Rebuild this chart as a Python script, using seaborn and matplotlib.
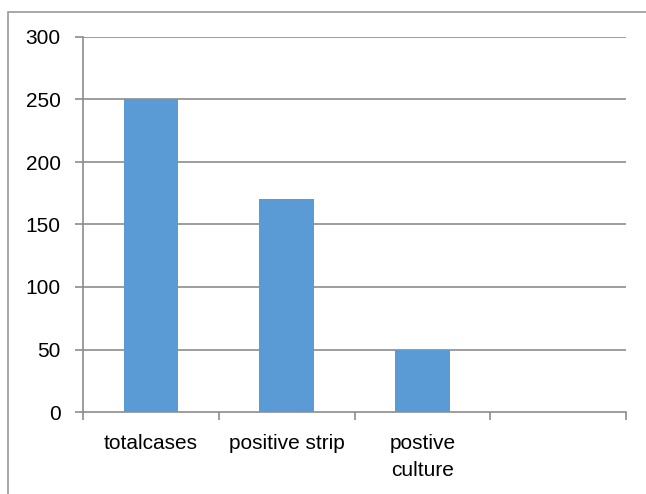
import matplotlib
matplotlib.use("Agg")
import matplotlib.pyplot as plt
import seaborn as sns
import pandas as pd
from matplotlib.patches import Rectangle

categories = ["totalcases", "positive strip", "postive\nculture", " "]
values = [250, 170, 50]
yticks = [0, 50, 100, 150, 200, 250, 300]

sns.set_style("white")
plt.rcParams['font.family'] = ['Liberation Sans', 'DejaVu Sans']

df = pd.DataFrame({"cat": categories[:3], "val": values})

fig = plt.figure(figsize=(6.46, 4.94), dpi=100)
ax = fig.add_axes([83/646, 1-412/494, (626-83)/646, (412-37)/494])
sns.barplot(data=df, x="cat", y="val", order=categories, color="#5B9BD5",
            width=0.40, saturation=1, ax=ax, zorder=3, linewidth=0)

grid_c = "#8c8c8c"
ax.set_ylim(0, 300)
ax.set_xlim(-0.5, 3.5)
ax.set_yticks(yticks)
ax.set_yticklabels([str(t) for t in yticks])
for y in yticks[1:]:
    ax.axhline(y, color=grid_c, lw=1.2, zorder=1)

ax.set_xticks([-0.5, 0.5, 1.5, 2.5, 3.5])
ax.set_xticklabels([])
ax.set_xticks([0, 1, 2, 3], minor=True)
ax.set_xticklabels(categories, minor=True, linespacing=1.5)
ax.tick_params(axis="x", which="major", length=6, width=1.2, color=grid_c, direction="out")
ax.tick_params(axis="x", which="minor", length=0, pad=16, labelsize=15, labelcolor="#000000")
ax.tick_params(axis="y", length=6, width=1.2, color=grid_c, direction="out", pad=10,
               labelsize=15, labelcolor="#000000")
ax.tick_params(bottom=True, left=True)

for s in ["top", "right"]:
    ax.spines[s].set_visible(False)
for s in ["left", "bottom"]:
    ax.spines[s].set_color(grid_c)
    ax.spines[s].set_linewidth(1.2)
ax.set_xlabel("")
ax.set_ylabel("")

fig.patches.append(Rectangle((8/646, -0.1), 1.2, 1.1 - 12/494, transform=fig.transFigure,
                             fill=False, edgecolor="#999999", lw=1.2, clip_on=False))

fig.savefig("out.png", dpi=100)
